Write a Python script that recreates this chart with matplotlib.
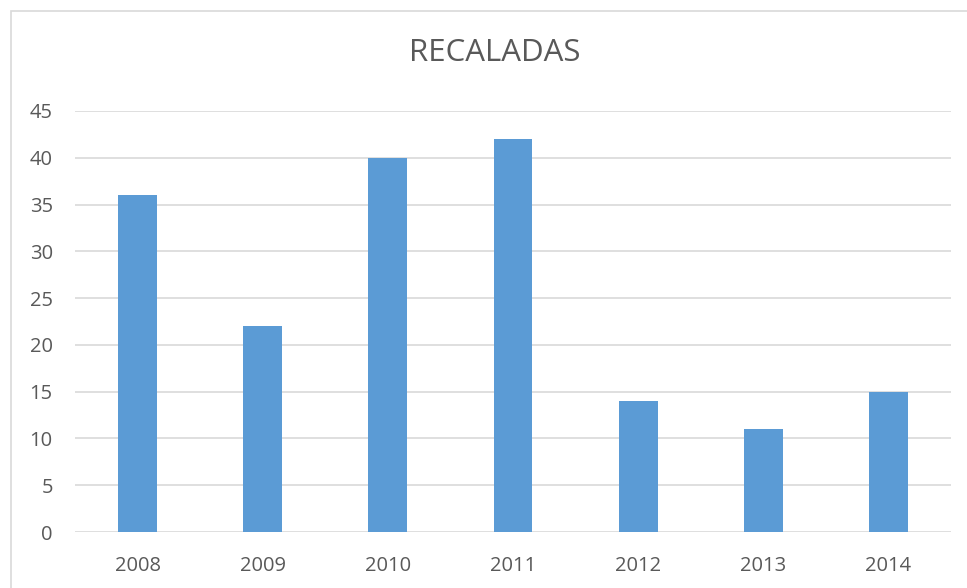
import matplotlib
matplotlib.use('Agg')
import matplotlib.pyplot as plt
from matplotlib.patches import Rectangle

years = ['2008', '2009', '2010', '2011', '2012', '2013', '2014']
recaladas = [36, 22, 40, 42, 14, 11, 15]

plt.rcParams['font.family'] = ['Open Sans', 'DejaVu Sans']

fig = plt.figure(figsize=(9.67, 5.88), dpi=100)
fig.patch.set_facecolor('white')

# chart frame (cut off at right/bottom in the reference)
fig.add_artist(Rectangle((11 / 967, -0.1), 1.2, 1 - 11 / 588 + 0.1,
                         transform=fig.transFigure, fill=False,
                         edgecolor='#D9D9D9', linewidth=1.2))

ax = fig.add_axes([75 / 967, 1 - 532 / 588, (951 - 75) / 967, (532 - 111) / 588])
ax.bar(range(len(years)), recaladas, width=0.31, color='#5B9BD5', zorder=3)
ax.set_xlim(-0.5, len(years) - 0.5)
ax.set_ylim(0, 45)
ax.set_yticks(range(0, 46, 5))
ax.set_xticks(range(len(years)))
ax.set_xticklabels(years)
ax.grid(axis='y', color='#D9D9D9', linewidth=1.2, zorder=0)
for s in ax.spines.values():
    s.set_visible(False)
ax.tick_params(length=0, labelsize=14.5, labelcolor='#595959')
ax.tick_params(axis='y', pad=16)
ax.tick_params(axis='x', pad=17)

fig.text(495 / 967, 1 - 53 / 588, 'RECALADAS', ha='center', va='center',
         fontsize=22.5, color='#595959')

fig.savefig('out.png', dpi=100, facecolor='white')
